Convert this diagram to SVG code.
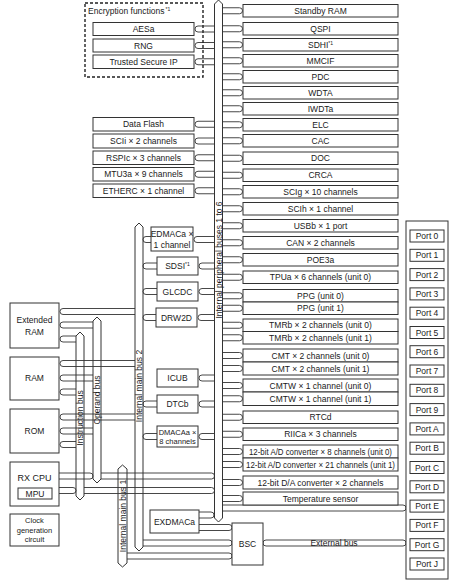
<svg xmlns="http://www.w3.org/2000/svg" width="461" height="584" viewBox="0 0 461 584">
<style>
.b{fill:#fff;stroke:#333;stroke-width:1}
.bus{fill:#fff;stroke:#333;stroke-width:1}
.cn{fill:none;stroke:#333;stroke-width:0.9}
.dash{fill:none;stroke:#222;stroke-width:1.4;stroke-dasharray:3 2}
text{font-family:"Liberation Sans",Arial,sans-serif;font-size:8.5px;fill:#1a1a1a}
.c{text-anchor:middle}
.v{text-anchor:middle;font-size:8.5px}
.s{font-size:7.5px}
.sup{font-size:5px}
</style>
<rect width="461" height="584" fill="#fff"/>

<g id="buses">
<path class="bus" d="M214.5,4 L218.5,0 L222.5,4 V518 L218.5,522 L214.5,518 Z"/>
<path class="bus" d="M135,227 L139,223 L143,227 V547 L139,551 L135,547 Z"/>
<path class="bus" d="M76,336 L80,332 L84,336 V496 L80,500 L76,496 Z"/>
<path class="bus" d="M93,321 L97,317 L101,321 V479 L97,483 L93,479 Z"/>
<path class="bus" d="M118,469 L122.5,465 L127,469 V563 L122.5,567 L118,563 Z"/>
<text class="v" transform="translate(218.5,260) rotate(-90)" y="3">Internal peripheral buses 1 to 6</text>
<text class="v" transform="translate(139,386) rotate(-90)" y="3">Internal main bus 2</text>
<text class="v" transform="translate(80,418) rotate(-90)" y="3">Instruction bus</text>
<text class="v" transform="translate(97,400) rotate(-90)" y="3">Operand bus</text>
<text class="v" transform="translate(122.5,516) rotate(-90)" y="3">Internal main bus 1</text>
</g>

<g id="connectors">
<!-- right peripherals -->
<path class="cn" d="M222.5,7.75H239.5A3 3 0 0 1 239.5,13.75H222.5"/>
<path class="cn" d="M222.5,25.75H239.5A3 3 0 0 1 239.5,31.75H222.5"/>
<path class="cn" d="M222.5,41.75H239.5A3 3 0 0 1 239.5,47.75H222.5"/>
<path class="cn" d="M222.5,57.75H239.5A3 3 0 0 1 239.5,63.75H222.5"/>
<path class="cn" d="M222.5,73.75H239.5A3 3 0 0 1 239.5,79.75H222.5"/>
<path class="cn" d="M222.5,89.75H239.5A3 3 0 0 1 239.5,95.75H222.5"/>
<path class="cn" d="M222.5,105.75H239.5A3 3 0 0 1 239.5,111.75H222.5"/>
<path class="cn" d="M222.5,121.75H239.5A3 3 0 0 1 239.5,127.75H222.5"/>
<path class="cn" d="M222.5,137.75H239.5A3 3 0 0 1 239.5,143.75H222.5"/>
<path class="cn" d="M222.5,155.25H239.5A3 3 0 0 1 239.5,161.25H222.5"/>
<path class="cn" d="M222.5,172.25H239.5A3 3 0 0 1 239.5,178.25H222.5"/>
<path class="cn" d="M222.5,188.75H239.5A3 3 0 0 1 239.5,194.75H222.5"/>
<path class="cn" d="M222.5,205.75H239.5A3 3 0 0 1 239.5,211.75H222.5"/>
<path class="cn" d="M222.5,222.75H239.5A3 3 0 0 1 239.5,228.75H222.5"/>
<path class="cn" d="M222.5,239.75H239.5A3 3 0 0 1 239.5,245.75H222.5"/>
<path class="cn" d="M222.5,256.75H239.5A3 3 0 0 1 239.5,262.75H222.5"/>
<path class="cn" d="M222.5,274.25H239.5A3 3 0 0 1 239.5,280.25H222.5"/>
<path class="cn" d="M222.5,292.75H239.5A3 3 0 0 1 239.5,298.75H222.5"/>
<path class="cn" d="M222.5,305.25H239.5A3 3 0 0 1 239.5,311.25H222.5"/>
<path class="cn" d="M222.5,322.25H239.5A3 3 0 0 1 239.5,328.25H222.5"/>
<path class="cn" d="M222.5,334.75H239.5A3 3 0 0 1 239.5,340.75H222.5"/>
<path class="cn" d="M222.5,352.5H239.5A3 3 0 0 1 239.5,358.5H222.5"/>
<path class="cn" d="M222.5,365.5H239.5A3 3 0 0 1 239.5,371.5H222.5"/>
<path class="cn" d="M222.5,382.5H239.5A3 3 0 0 1 239.5,388.5H222.5"/>
<path class="cn" d="M222.5,395.75H239.5A3 3 0 0 1 239.5,401.75H222.5"/>
<path class="cn" d="M222.5,414.25H239.5A3 3 0 0 1 239.5,420.25H222.5"/>
<path class="cn" d="M222.5,431.25H239.5A3 3 0 0 1 239.5,437.25H222.5"/>
<path class="cn" d="M222.5,448.5H239.5A3 3 0 0 1 239.5,454.5H222.5"/>
<path class="cn" d="M222.5,461.5H239.5A3 3 0 0 1 239.5,467.5H222.5"/>
<path class="cn" d="M222.5,479.5H239.5A3 3 0 0 1 239.5,485.5H222.5"/>
<path class="cn" d="M222.5,495.5H239.5A3 3 0 0 1 239.5,501.5H222.5"/>
<!-- left peripherals -->
<path class="cn" d="M214.5,26H198A3 3 0 0 0 198,32H214.5"/>
<path class="cn" d="M214.5,42.5H198A3 3 0 0 0 198,48.5H214.5"/>
<path class="cn" d="M214.5,58.75H198A3 3 0 0 0 198,64.75H214.5"/>
<path class="cn" d="M214.5,121.25H198A3 3 0 0 0 198,127.25H214.5"/>
<path class="cn" d="M214.5,138H198A3 3 0 0 0 198,144H214.5"/>
<path class="cn" d="M214.5,154.75H198A3 3 0 0 0 198,160.75H214.5"/>
<path class="cn" d="M214.5,171.25H198A3 3 0 0 0 198,177.25H214.5"/>
<path class="cn" d="M214.5,187.75H198A3 3 0 0 0 198,193.75H214.5"/>
<!-- middle column -->
<path class="cn" d="M151,236.5H146A3 3 0 0 0 146,242.5H151"/>
<path class="cn" d="M214.5,236.5H197A3 3 0 0 0 197,242.5H214.5"/>
<path class="cn" d="M157,263H146A3 3 0 0 0 146,269H157"/>
<path class="cn" d="M214.5,263H202A3 3 0 0 0 202,269H214.5"/>
<path class="cn" d="M157,288.5H146A3 3 0 0 0 146,294.5H157"/>
<path class="cn" d="M214.5,288.5H202A3 3 0 0 0 202,294.5H214.5"/>
<path class="cn" d="M156,314.5H146A3 3 0 0 0 146,320.5H156"/>
<path class="cn" d="M214.5,314.5H201A3 3 0 0 0 201,320.5H214.5"/>
<path class="cn" d="M214.5,375H202A3 3 0 0 0 202,381H214.5"/>
<path class="cn" d="M157,401H146A3 3 0 0 0 146,407H157"/>
<path class="cn" d="M214.5,401H202A3 3 0 0 0 202,407H214.5"/>
<path class="cn" d="M157,433.5H146A3 3 0 0 0 146,439.5H157"/>
<path class="cn" d="M214.5,433.5H202A3 3 0 0 0 202,439.5H214.5"/>
<!-- memories -->
<path class="cn" d="M135,308.5H63A3 3 0 0 0 63,314.5H135"/>
<path class="cn" d="M93,322H63A3 3 0 0 0 63,328H93"/>
<path class="cn" d="M76,336H63A3 3 0 0 0 63,342H76"/>
<path class="cn" d="M135,360.5H63A3 3 0 0 0 63,366.5H135"/>
<path class="cn" d="M93,375H63A3 3 0 0 0 63,381H93"/>
<path class="cn" d="M76,389H63A3 3 0 0 0 63,395H76"/>
<path class="cn" d="M135,414H63A3 3 0 0 0 63,420H135"/>
<path class="cn" d="M93,428H63A3 3 0 0 0 63,434H93"/>
<path class="cn" d="M76,441.5H63A3 3 0 0 0 63,447.5H76"/>
<!-- CPU -->
<path class="cn" d="M59,473H90A3 3 0 0 1 90,479H59"/>
<path class="cn" d="M59,487.5H73A3 3 0 0 1 73,493.5H59"/>
<path class="cn" d="M101,473H211.5A3 3 0 0 1 211.5,479H101"/>
<path class="cn" d="M84,487.5H211.5A3 3 0 0 1 211.5,493.5H84"/>
<!-- EXDMAC / BSC / ports -->
<path class="cn" d="M199,512H211A3 3 0 0 1 211,518H199"/>
<path class="cn" d="M199,524.5H229A3 3 0 0 1 229,530.5H199"/>
<path class="cn" d="M143,540H229A3 3 0 0 1 229,546H143"/>
<path class="cn" d="M127,553H229A3 3 0 0 1 229,559H127"/>
<path class="cn" d="M222.5,505H403A3 3 0 0 1 403,511H222.5"/>
<path class="cn" d="M266,540H403A3 3 0 0 1 403,546H266A3 3 0 0 1 266,540Z"/>
<text class="c" x="334" y="546">External bus</text>
</g>

<g id="encryption">
<rect class="dash" x="85" y="3" width="118" height="74"/>
<text x="88" y="14">Encryption functions<tspan class="sup" dx="1" dy="-3">*1</tspan></text>
</g>
<g id="aesa"><rect class="b" x="93" y="22.5" width="101" height="13"/><text class="c" x="143.5" y="32">AESa</text></g>
<g id="rng"><rect class="b" x="93" y="39" width="101" height="13"/><text class="c" x="143.5" y="48.5">RNG</text></g>
<g id="tsip"><rect class="b" x="93" y="55" width="101" height="13.5"/><text class="c" x="143.5" y="64.75">Trusted Secure IP</text></g>

<g id="dataflash"><rect class="b" x="93" y="117.5" width="101" height="13.5"/><text class="c" x="143.5" y="127.25">Data Flash</text></g>
<g id="scii"><rect class="b" x="93" y="134" width="101" height="14"/><text class="c" x="143.5" y="144">SCIi × 2 channels</text></g>
<g id="rspic"><rect class="b" x="93" y="151" width="101" height="13.5"/><text class="c" x="143.5" y="160.75">RSPIc × 3 channels</text></g>
<g id="mtu3a"><rect class="b" x="93" y="167.5" width="101" height="13.5"/><text class="c" x="143.5" y="177.25">MTU3a × 9 channels</text></g>
<g id="etherc"><rect class="b" x="93" y="184" width="101" height="13.5"/><text class="c" x="143.5" y="193.75">ETHERC × 1 channel</text></g>

<g id="standbyram"><rect class="b" x="243" y="4.5" width="155" height="12.5"/><text class="c" x="320.5" y="13.75">Standby RAM</text></g>
<g id="qspi"><rect class="b" x="243" y="22.5" width="155" height="12.5"/><text class="c" x="320.5" y="31.75">QSPI</text></g>
<g id="sdhi"><rect class="b" x="243" y="38.5" width="155" height="12.5"/><text class="c" x="320.5" y="47.75">SDHI<tspan class="sup" dy="-3">*1</tspan></text></g>
<g id="mmcif"><rect class="b" x="243" y="54.5" width="155" height="12.5"/><text class="c" x="320.5" y="63.75">MMCIF</text></g>
<g id="pdc"><rect class="b" x="243" y="70.5" width="155" height="12.5"/><text class="c" x="320.5" y="79.75">PDC</text></g>
<g id="wdta"><rect class="b" x="243" y="86.5" width="155" height="12.5"/><text class="c" x="320.5" y="95.75">WDTA</text></g>
<g id="iwdta"><rect class="b" x="243" y="102.5" width="155" height="12.5"/><text class="c" x="320.5" y="111.75">IWDTa</text></g>
<g id="elc"><rect class="b" x="243" y="118.5" width="155" height="12.5"/><text class="c" x="320.5" y="127.75">ELC</text></g>
<g id="cac"><rect class="b" x="243" y="134.5" width="155" height="12.5"/><text class="c" x="320.5" y="143.75">CAC</text></g>
<g id="doc"><rect class="b" x="243" y="152" width="155" height="12.5"/><text class="c" x="320.5" y="161.25">DOC</text></g>
<g id="crca"><rect class="b" x="243" y="169" width="155" height="12.5"/><text class="c" x="320.5" y="178.25">CRCA</text></g>
<g id="scig"><rect class="b" x="243" y="185.5" width="155" height="12.5"/><text class="c" x="320.5" y="194.75">SCIg × 10 channels</text></g>
<g id="scih"><rect class="b" x="243" y="202.5" width="155" height="12.5"/><text class="c" x="320.5" y="211.75">SCIh × 1 channel</text></g>
<g id="usbb"><rect class="b" x="243" y="219.5" width="155" height="12.5"/><text class="c" x="320.5" y="228.75">USBb × 1 port</text></g>
<g id="can"><rect class="b" x="243" y="236.5" width="155" height="12.5"/><text class="c" x="320.5" y="245.75">CAN × 2 channels</text></g>
<g id="poe3a"><rect class="b" x="243" y="253.5" width="155" height="12.5"/><text class="c" x="320.5" y="262.75">POE3a</text></g>
<g id="tpua"><rect class="b" x="243" y="271" width="155" height="12.5"/><text class="c" x="320.5" y="280.25">TPUa × 6 channels (unit 0)</text></g>
<g id="ppg0"><rect class="b" x="243" y="289.5" width="155" height="12.5"/><text class="c" x="320.5" y="298.75">PPG (unit 0)</text></g>
<g id="ppg1"><rect class="b" x="243" y="302" width="155" height="12.5"/><text class="c" x="320.5" y="311.25">PPG (unit 1)</text></g>
<g id="tmrb0"><rect class="b" x="243" y="319" width="155" height="12.5"/><text class="c" x="320.5" y="328.25">TMRb × 2 channels (unit 0)</text></g>
<g id="tmrb1"><rect class="b" x="243" y="331.5" width="155" height="12.5"/><text class="c" x="320.5" y="340.75">TMRb × 2 channels (unit 1)</text></g>
<g id="cmt0"><rect class="b" x="243" y="349" width="155" height="13"/><text class="c" x="320.5" y="358.5">CMT × 2 channels (unit 0)</text></g>
<g id="cmt1"><rect class="b" x="243" y="362" width="155" height="13"/><text class="c" x="320.5" y="371.5">CMT × 2 channels (unit 1)</text></g>
<g id="cmtw0"><rect class="b" x="243" y="379" width="155" height="13"/><text class="c" x="320.5" y="388.5">CMTW × 1 channel (unit 0)</text></g>
<g id="cmtw1"><rect class="b" x="243" y="392" width="155" height="13.5"/><text class="c" x="320.5" y="401.75">CMTW × 1 channel (unit 1)</text></g>
<g id="rtcd"><rect class="b" x="243" y="411" width="155" height="12.5"/><text class="c" x="320.5" y="420.25">RTCd</text></g>
<g id="riica"><rect class="b" x="243" y="428" width="155" height="12.5"/><text class="c" x="320.5" y="437.25">RIICa × 3 channels</text></g>
<g id="ad0"><rect class="b" x="243" y="445" width="155" height="13"/><text class="c" x="320.5" y="454.5" textLength="143" lengthAdjust="spacingAndGlyphs">12-bit A/D converter × 8 channels (unit 0)</text></g>
<g id="ad1"><rect class="b" x="243" y="458" width="155" height="13"/><text class="c" x="320.5" y="467.5" textLength="149" lengthAdjust="spacingAndGlyphs">12-bit A/D converter × 21 channels (unit 1)</text></g>
<g id="da"><rect class="b" x="243" y="476" width="155" height="13"/><text class="c" x="320.5" y="485.5">12-bit D/A converter × 2 channels</text></g>
<g id="temp"><rect class="b" x="243" y="492" width="155" height="13"/><text class="c" x="320.5" y="501.5">Temperature sensor</text></g>

<g id="edmaca"><rect class="b" x="151" y="227" width="42" height="24"/><text class="c" x="172" y="236.5">EDMACa ×</text><text class="c" x="172" y="247.5">1 channel</text></g>
<g id="sdsi"><rect class="b" x="157" y="257" width="41" height="18"/><text class="c" x="177.5" y="269">SDSI<tspan class="sup" dy="-3">*1</tspan></text></g>
<g id="glcdc"><rect class="b" x="157" y="282" width="41" height="19"/><text class="c" x="177.5" y="294.5">GLCDC</text></g>
<g id="drw2d"><rect class="b" x="156" y="308" width="41" height="19"/><text class="c" x="176.5" y="320.5">DRW2D</text></g>
<g id="icub"><rect class="b" x="157" y="369" width="41" height="18"/><text class="c" x="177.5" y="381">ICUB</text></g>
<g id="dtcb"><rect class="b" x="157" y="395" width="41" height="18"/><text class="c" x="177.5" y="407">DTCb</text></g>
<g id="dmacaa"><rect class="b" x="157" y="426" width="41" height="21"/><text class="c s" x="177.5" y="434.5">DMACAa ×</text><text class="c s" x="177.5" y="444">8 channels</text></g>
<g id="exdmaca"><rect class="b" x="150" y="510" width="49" height="23"/><text class="c" x="174.5" y="524.5">EXDMACa</text></g>
<g id="bsc"><rect class="b" x="232" y="523" width="31" height="42"/><text class="c" x="247.5" y="547">BSC</text></g>

<g id="extram"><rect class="b" x="10" y="303" width="49" height="45"/><text class="c" x="34.5" y="323">Extended</text><text class="c" x="34.5" y="335">RAM</text></g>
<g id="ram"><rect class="b" x="10" y="357" width="49" height="43"/><text class="c" x="34.5" y="381">RAM</text></g>
<g id="rom"><rect class="b" x="10" y="409" width="49" height="44"/><text class="c" x="34.5" y="434">ROM</text></g>
<g id="rxcpu"><rect class="b" x="10" y="462" width="49" height="44"/><text class="c" x="34.5" y="481" style="font-size:9px">RX CPU</text><rect class="b" x="18" y="488" width="34" height="11"/><text class="c" x="35" y="496.5">MPU</text></g>
<g id="clock"><rect class="b" x="10" y="514" width="49" height="32"/><text class="c s" x="34.5" y="523">Clock</text><text class="c s" x="34.5" y="532.5">generation</text><text class="c s" x="34.5" y="542">circuit</text></g>

<g id="ports">
<rect class="b" x="406" y="221" width="42" height="358"/>
<g id="port0"><rect class="b" x="410" y="230" width="34" height="12"/><text class="c" x="427" y="239">Port 0</text></g>
<g id="port1"><rect class="b" x="410" y="249.3" width="34" height="12"/><text class="c" x="427" y="258.3">Port 1</text></g>
<g id="port2"><rect class="b" x="410" y="268.6" width="34" height="12"/><text class="c" x="427" y="277.6">Port 2</text></g>
<g id="port3"><rect class="b" x="410" y="287.9" width="34" height="12"/><text class="c" x="427" y="296.9">Port 3</text></g>
<g id="port4"><rect class="b" x="410" y="307.2" width="34" height="12"/><text class="c" x="427" y="316.2">Port 4</text></g>
<g id="port5"><rect class="b" x="410" y="326.5" width="34" height="12"/><text class="c" x="427" y="335.5">Port 5</text></g>
<g id="port6"><rect class="b" x="410" y="345.7" width="34" height="12"/><text class="c" x="427" y="354.7">Port 6</text></g>
<g id="port7"><rect class="b" x="410" y="365" width="34" height="12"/><text class="c" x="427" y="374">Port 7</text></g>
<g id="port8"><rect class="b" x="410" y="384.3" width="34" height="12"/><text class="c" x="427" y="393.3">Port 8</text></g>
<g id="port9"><rect class="b" x="410" y="403.6" width="34" height="12"/><text class="c" x="427" y="412.6">Port 9</text></g>
<g id="portA"><rect class="b" x="410" y="422.9" width="34" height="12"/><text class="c" x="427" y="431.9">Port A</text></g>
<g id="portB"><rect class="b" x="410" y="442.2" width="34" height="12"/><text class="c" x="427" y="451.2">Port B</text></g>
<g id="portC"><rect class="b" x="410" y="461.5" width="34" height="12"/><text class="c" x="427" y="470.5">Port C</text></g>
<g id="portD"><rect class="b" x="410" y="480.8" width="34" height="12"/><text class="c" x="427" y="489.8">Port D</text></g>
<g id="portE"><rect class="b" x="410" y="500.1" width="34" height="12"/><text class="c" x="427" y="509.1">Port E</text></g>
<g id="portF"><rect class="b" x="410" y="519.4" width="34" height="12"/><text class="c" x="427" y="528.4">Port F</text></g>
<g id="portG"><rect class="b" x="410" y="538.7" width="34" height="12"/><text class="c" x="427" y="547.7">Port G</text></g>
<g id="portJ"><rect class="b" x="410" y="558" width="34" height="12"/><text class="c" x="427" y="567">Port J</text></g>
</g>
</svg>
